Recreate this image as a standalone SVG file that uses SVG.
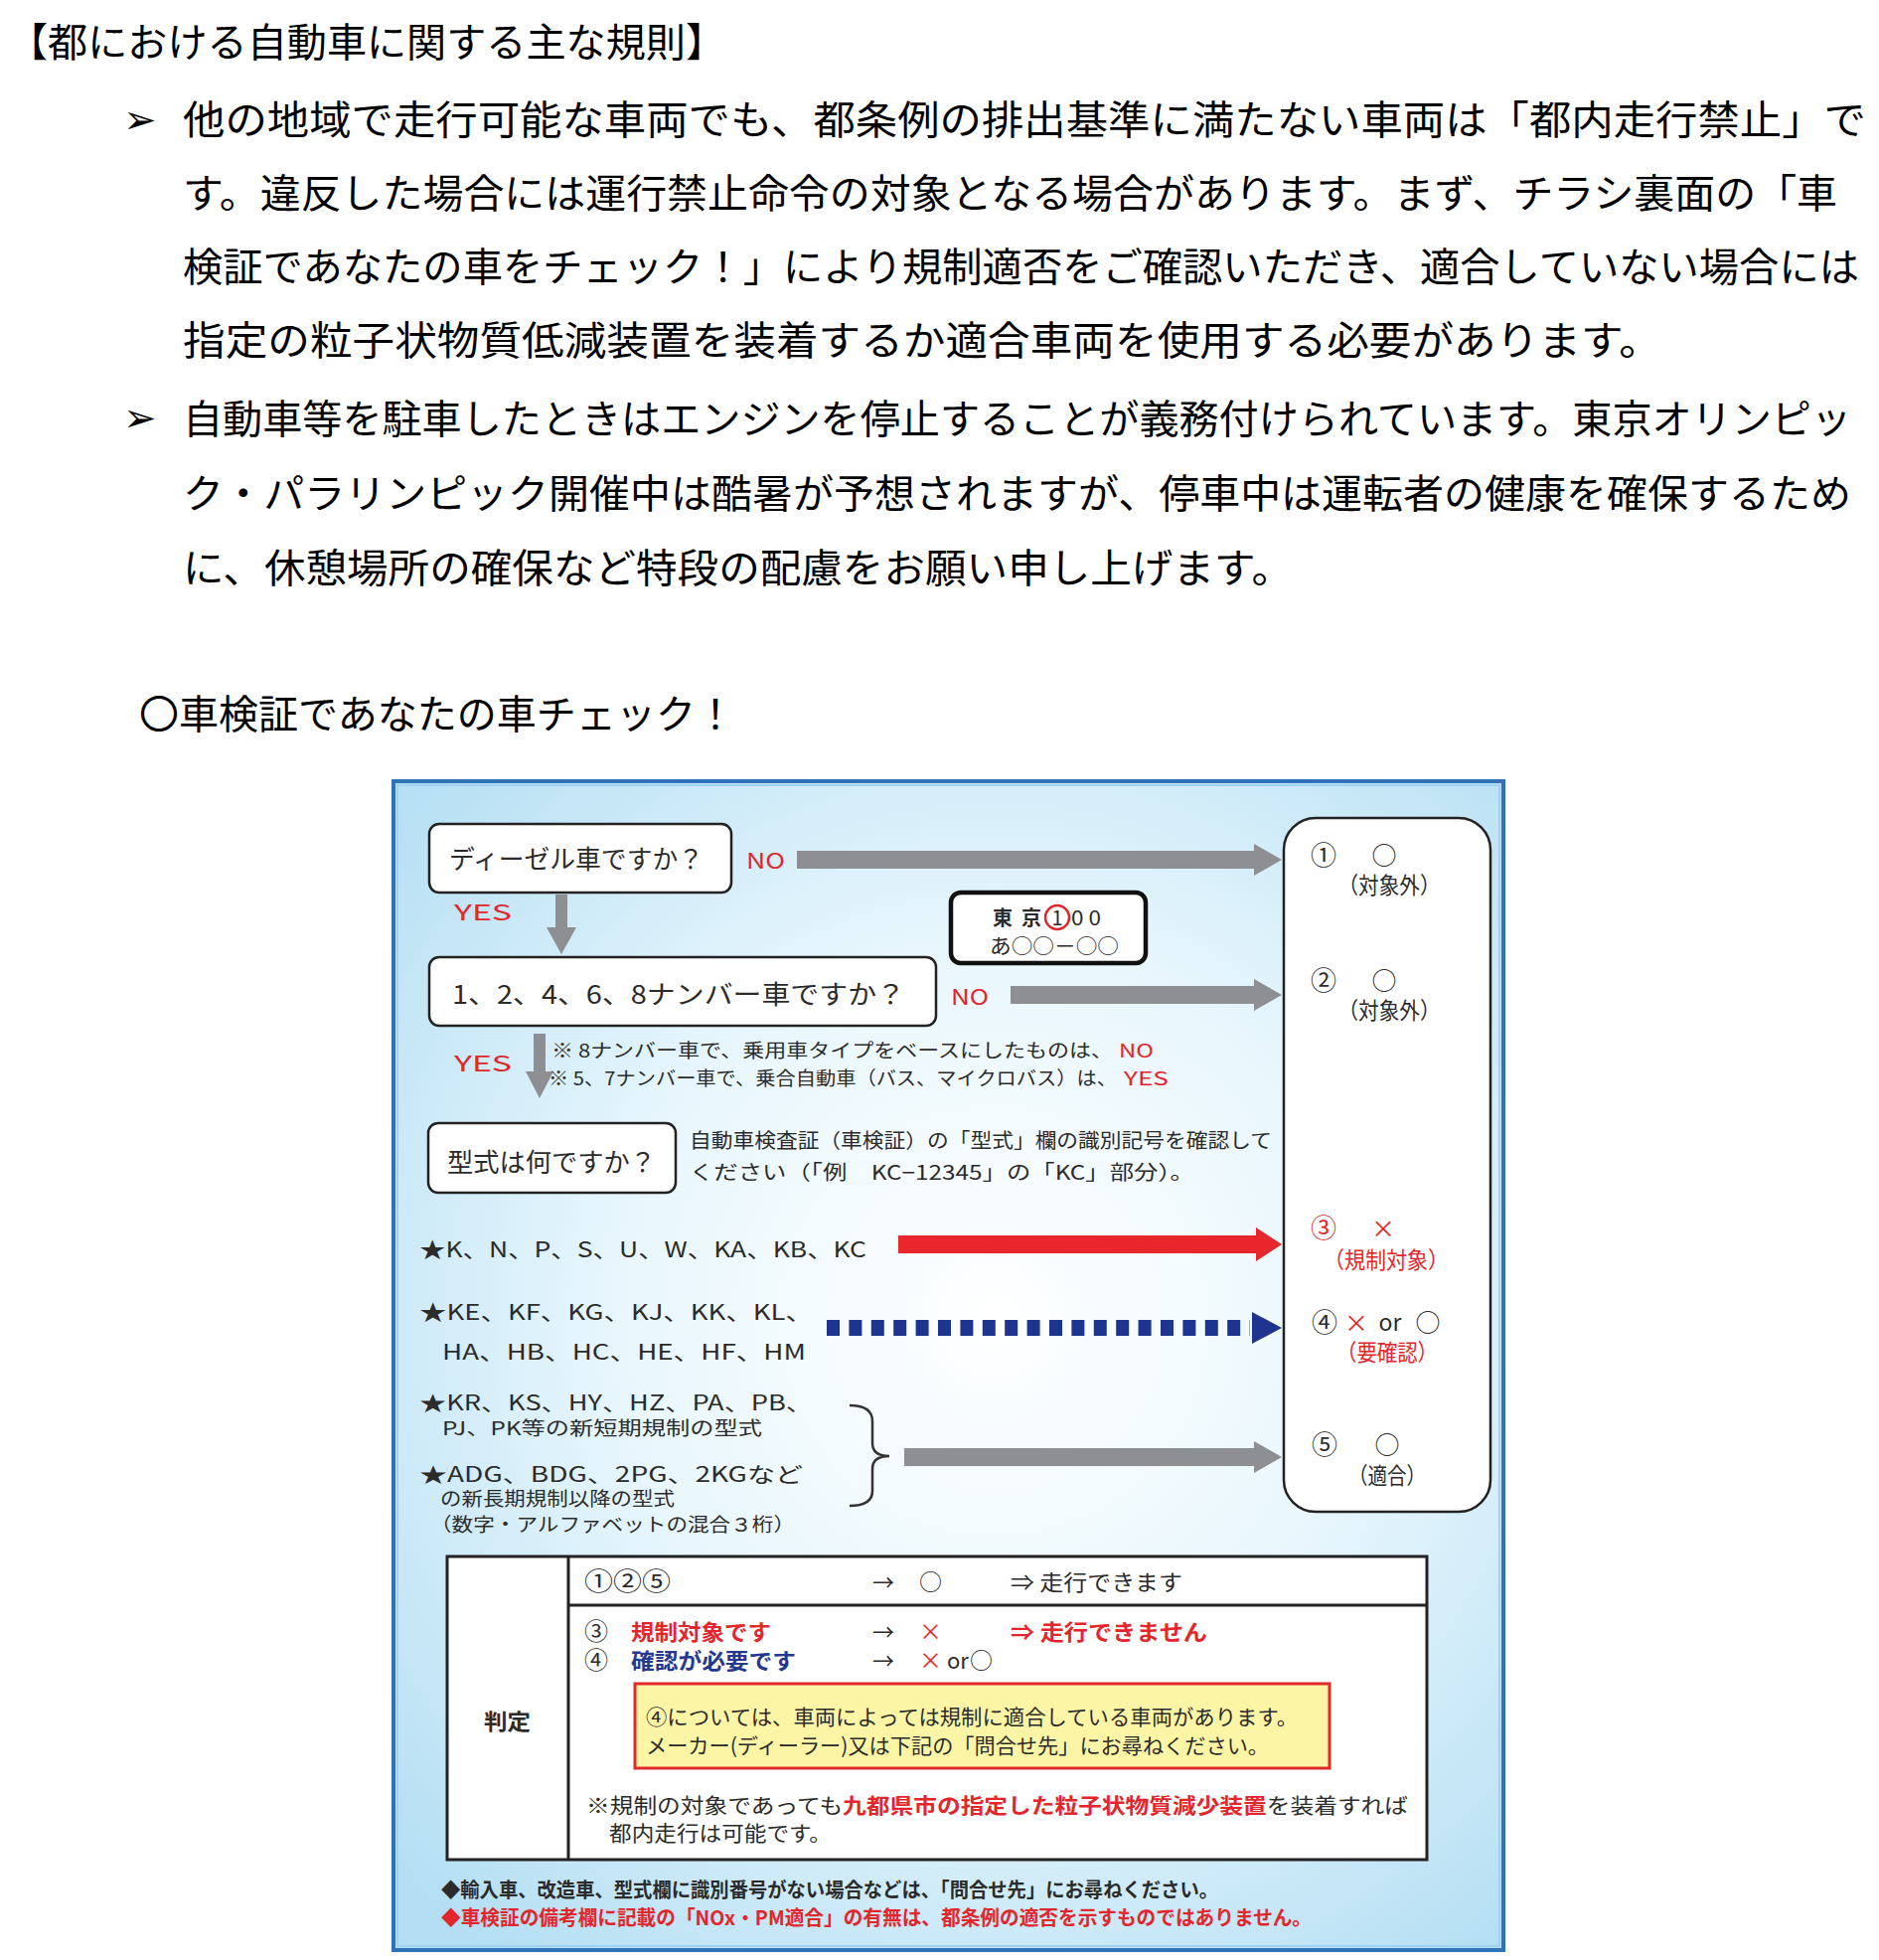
<svg xmlns="http://www.w3.org/2000/svg" width="1891" height="1972" viewBox="0 0 1891 1972">
<defs>
<radialGradient id="bg" gradientUnits="userSpaceOnUse" cx="1000" cy="1330" r="820">
<stop offset="0" stop-color="#ffffff"/>
<stop offset="0.45" stop-color="#e9f7fd"/>
<stop offset="1" stop-color="#b3def3"/>
</radialGradient>
<style>
.p{font-family:'Noto Sans CJK JP','Noto Sans CJK SC',sans-serif;font-size:40px;fill:#000}
.t{font-family:'Noto Sans CJK JP','Noto Sans CJK SC',sans-serif;fill:#2b2b2b}
.r{fill:#e3262b}
.b{fill:#25388f}
.box{fill:#fff;stroke:#222;stroke-width:2.5}
.gray{fill:#8d8f92}
.bul{font-family:'DejaVu Sans',sans-serif;font-size:40px;fill:#000}
</style>
</defs>
<rect width="1891" height="1972" fill="#fff"/>

<g id="header">
<text class="p" x="8" y="57" textLength="722" lengthAdjust="spacingAndGlyphs">【都における自動車に関する主な規則】</text>
<text class="bul" x="124" y="134">➢</text>
<text class="p" x="184" y="135" textLength="1694" lengthAdjust="spacingAndGlyphs">他の地域で走行可能な車両でも、都条例の排出基準に満たない車両は「都内走行禁止」で</text>
<text class="p" x="184" y="209" textLength="1665" lengthAdjust="spacingAndGlyphs">す。違反した場合には運行禁止命令の対象となる場合があります。まず、チラシ裏面の「車</text>
<text class="p" x="184" y="283" textLength="1687" lengthAdjust="spacingAndGlyphs">検証であなたの車をチェック！」により規制適否をご確認いただき、適合していない場合には</text>
<text class="p" x="184" y="357" textLength="1488" lengthAdjust="spacingAndGlyphs">指定の粒子状物質低減装置を装着するか適合車両を使用する必要があります。</text>
<text class="bul" x="124" y="434">➢</text>
<text class="p" x="184" y="436" textLength="1679" lengthAdjust="spacingAndGlyphs">自動車等を駐車したときはエンジンを停止することが義務付けられています。東京オリンピッ</text>
<text class="p" x="184" y="511" textLength="1679" lengthAdjust="spacingAndGlyphs">ク・パラリンピック開催中は酷暑が予想されますが、停車中は運転者の健康を確保するため</text>
<text class="p" x="184" y="586" textLength="1117" lengthAdjust="spacingAndGlyphs">に、休憩場所の確保など特段の配慮をお願い申し上げます。</text>
<text class="p" x="140" y="733" textLength="600" lengthAdjust="spacingAndGlyphs">〇車検証であなたの車チェック！</text>
</g>

<g id="frame">
<rect x="396" y="786" width="1117" height="1176" fill="url(#bg)" stroke="#2f72b8" stroke-width="4"/>
<rect x="400" y="790" width="1109" height="1168" fill="none" stroke="#9fd2ee" stroke-width="2"/>
</g>

<g id="connectors">
<polygon class="gray" points="802,856 1262,856 1262,849 1290,865 1262,881 1262,874 802,874"/>
<polygon class="gray" points="1017,992 1262,992 1262,985 1290,1001 1262,1017 1262,1010 1017,1010"/>
<polygon fill="#e8262c" points="904,1243 1264,1243 1264,1235 1290,1252 1264,1269 1264,1261 904,1261"/>
<line x1="832" y1="1336" x2="1258" y2="1336" stroke="#1e3590" stroke-width="16" stroke-dasharray="13 9.4"/>
<polygon fill="#1e3590" points="1260,1320 1290,1336 1260,1352"/>
<polygon class="gray" points="910,1457 1262,1457 1262,1450 1290,1466 1262,1482 1262,1475 910,1475"/>
<polygon class="gray" points="559,900 571,900 571,933 580,933 565,960 550,933 559,933"/>
<polygon class="gray" points="537,1040 549,1040 549,1078 557,1078 543,1105 529,1078 537,1078"/>
<path d="M855,1414 Q878,1414 878,1430 L878,1452 Q878,1465 895,1465 Q878,1465 878,1478 L878,1500 Q878,1515 855,1515" fill="none" stroke="#333" stroke-width="2.5"/>
<text class="t r" x="751" y="874" font-size="22" textLength="39" lengthAdjust="spacingAndGlyphs">NO</text>
<text class="t r" x="457" y="926" font-size="22" textLength="58" lengthAdjust="spacingAndGlyphs">YES</text>
<text class="t r" x="957" y="1011" font-size="22" textLength="38" lengthAdjust="spacingAndGlyphs">NO</text>
<text class="t r" x="457" y="1078" font-size="22" textLength="58" lengthAdjust="spacingAndGlyphs">YES</text>
</g>

<g id="q-diesel">
<rect class="box" x="432" y="829" width="304" height="69" rx="10"/>
<text class="t" x="452" y="874" font-size="26" textLength="256" lengthAdjust="spacingAndGlyphs">ディーゼル車ですか？</text>
</g>

<g id="plate">
<rect x="957" y="898" width="196" height="71" rx="10" fill="#fff" stroke="#111" stroke-width="4.5"/>
<text class="t" x="999" y="931" font-size="20" font-weight="bold">東</text>
<text class="t" x="1028" y="931" font-size="20" font-weight="bold">京</text>
<text class="t" x="1064" y="931" font-size="20" text-anchor="middle">1</text>
<ellipse cx="1064" cy="923" rx="12" ry="12" fill="none" stroke="#e0262a" stroke-width="2.5"/>
<text class="t" x="1078" y="931" font-size="20" textLength="30" lengthAdjust="spacingAndGlyphs">0 0</text>
<text class="t" x="996" y="959" font-size="21" textLength="130" lengthAdjust="spacingAndGlyphs">あ○○－○○</text>
</g>

<g id="q-number">
<rect class="box" x="432" y="963" width="510" height="69" rx="10"/>
<text class="t" x="455" y="1010" font-size="26" textLength="456" lengthAdjust="spacingAndGlyphs">1、2、4、6、8ナンバー車ですか？</text>
</g>

<g id="notes-number">
<text class="t" x="555" y="1064" font-size="19" textLength="565" lengthAdjust="spacingAndGlyphs">※ 8ナンバー車で、乗用車タイプをベースにしたものは、</text>
<text class="t r" x="1126" y="1064" font-size="19" textLength="35" lengthAdjust="spacingAndGlyphs">NO</text>
<text class="t" x="552" y="1092" font-size="19" textLength="572" lengthAdjust="spacingAndGlyphs">※ 5、7ナンバー車で、乗合自動車（バス、マイクロバス）は、</text>
<text class="t r" x="1131" y="1092" font-size="19" textLength="45" lengthAdjust="spacingAndGlyphs">YES</text>
</g>

<g id="q-type">
<rect class="box" x="431" y="1130" width="249" height="70" rx="10"/>
<text class="t" x="450" y="1179" font-size="26" textLength="210" lengthAdjust="spacingAndGlyphs">型式は何ですか？</text>
<text class="t" x="694" y="1155" font-size="20" textLength="586" lengthAdjust="spacingAndGlyphs">自動車検査証（車検証）の「型式」欄の識別記号を確認して</text>
<text class="t" x="694" y="1187" font-size="20" textLength="508" lengthAdjust="spacingAndGlyphs">ください（「例　KC−12345」の「KC」部分）。</text>
</g>

<g id="types">
<text class="t" x="422" y="1265" font-size="22" textLength="450" lengthAdjust="spacingAndGlyphs">★K、N、P、S、U、W、KA、KB、KC</text>
<text class="t" x="422" y="1328" font-size="22" textLength="396" lengthAdjust="spacingAndGlyphs">★KE、KF、KG、KJ、KK、KL、</text>
<text class="t" x="445" y="1368" font-size="22" textLength="366" lengthAdjust="spacingAndGlyphs">HA、HB、HC、HE、HF、HM</text>
<text class="t" x="422" y="1419" font-size="21" textLength="396" lengthAdjust="spacingAndGlyphs">★KR、KS、HY、HZ、PA、PB、</text>
<text class="t" x="445" y="1444" font-size="19" textLength="322" lengthAdjust="spacingAndGlyphs">PJ、PK等の新短期規制の型式</text>
<text class="t" x="422" y="1491" font-size="21" textLength="386" lengthAdjust="spacingAndGlyphs">★ADG、BDG、2PG、2KGなど</text>
<text class="t" x="443" y="1515" font-size="19" textLength="236" lengthAdjust="spacingAndGlyphs">の新長期規制以降の型式</text>
<text class="t" x="433" y="1541" font-size="19" textLength="367" lengthAdjust="spacingAndGlyphs">（数字・アルファベットの混合３桁）</text>
</g>

<g id="results">
<rect class="box" x="1292" y="823" width="208" height="698" rx="32"/>
<g font-size="23" text-anchor="middle">
<text class="t" x="1332" y="870" font-size="26">①</text>
<text class="t" x="1393" y="870" font-size="25">○</text>
<text class="t" x="1398" y="899" textLength="103" lengthAdjust="spacingAndGlyphs">（対象外）</text>
<text class="t" x="1332" y="996" font-size="26">②</text>
<text class="t" x="1393" y="996" font-size="25">○</text>
<text class="t" x="1398" y="1025" textLength="103" lengthAdjust="spacingAndGlyphs">（対象外）</text>
<text class="t r" x="1332" y="1245" font-size="26">③</text>
<text class="t r" x="1392" y="1245" font-size="24">×</text>
<text class="t r" x="1395" y="1276" textLength="126" lengthAdjust="spacingAndGlyphs">（規制対象）</text>
<text class="t" x="1333" y="1340" font-size="26">④</text>
<text class="t r" x="1365" y="1340" font-size="24">×</text>
<text class="t" x="1399" y="1339" font-family="'Liberation Sans',sans-serif" font-size="23">or</text>
<text class="t" x="1437" y="1340" font-size="25">○</text>
<text class="t r" x="1396" y="1369" textLength="102" lengthAdjust="spacingAndGlyphs">（要確認）</text>
<text class="t" x="1333" y="1463" font-size="26">⑤</text>
<text class="t" x="1396" y="1463" font-size="25">○</text>
<text class="t" x="1396" y="1493" textLength="78" lengthAdjust="spacingAndGlyphs">（適合）</text>
</g>
</g>

<g id="judgement">
<rect x="450" y="1566" width="986" height="305" fill="#fff" stroke="#222" stroke-width="3"/>
<line x1="572" y1="1566" x2="572" y2="1871" stroke="#222" stroke-width="3"/>
<line x1="572" y1="1615" x2="1436" y2="1615" stroke="#222" stroke-width="3"/>
<text class="t" x="487" y="1740" font-size="22" font-weight="bold" textLength="47" lengthAdjust="spacingAndGlyphs">判定</text>
<g font-size="22">
<text class="t" x="588" y="1600" font-size="25" textLength="87" lengthAdjust="spacingAndGlyphs">①②⑤</text>
<text class="t" x="878" y="1600">→</text>
<text class="t" x="925" y="1600" font-size="23">○</text>
<text class="t" x="1017" y="1600" textLength="173" lengthAdjust="spacingAndGlyphs">⇒ 走行できます</text>
<text class="t" x="588" y="1650" font-size="24">③</text>
<text class="t r" x="635" y="1650" font-weight="bold" textLength="141" lengthAdjust="spacingAndGlyphs">規制対象です</text>
<text class="t" x="878" y="1650">→</text>
<text class="t r" x="925" y="1650" font-size="23">×</text>
<text class="t r" x="1017" y="1650" font-weight="bold" textLength="198" lengthAdjust="spacingAndGlyphs">⇒ 走行できません</text>
<text class="t" x="588" y="1679" font-size="24">④</text>
<text class="t b" x="635" y="1679" font-weight="bold" textLength="166" lengthAdjust="spacingAndGlyphs">確認が必要です</text>
<text class="t" x="878" y="1679">→</text>
<text class="t r" x="925" y="1679" font-size="23">×</text>
<text class="t" x="953" y="1679" font-family="'Liberation Sans',sans-serif">or</text>
<text class="t" x="976" y="1679" font-size="23">○</text>
</g>
<rect x="639" y="1694" width="699" height="85" fill="#fdf5a6" stroke="#e02a2a" stroke-width="3"/>
<text class="t" x="650" y="1735" font-size="21" textLength="656" lengthAdjust="spacingAndGlyphs">④については、車両によっては規制に適合している車両があります。</text>
<text class="t" x="650" y="1764" font-size="21" textLength="627" lengthAdjust="spacingAndGlyphs">メーカー(ディーラー)又は下記の「問合せ先」にお尋ねください。</text>
<text class="t" x="590" y="1824" font-size="21" textLength="827" lengthAdjust="spacingAndGlyphs">※規制の対象であっても<tspan class="r" font-weight="bold">九都県市の指定した粒子状物質減少装置</tspan>を装着すれば</text>
<text class="t" x="613" y="1852" font-size="21" textLength="224" lengthAdjust="spacingAndGlyphs">都内走行は可能です。</text>
</g>

<g id="footer">
<text class="t" x="444" y="1909" font-size="20" font-weight="bold" textLength="782" lengthAdjust="spacingAndGlyphs">◆輸入車、改造車、型式欄に識別番号がない場合などは、「問合せ先」にお尋ねください。</text>
<text class="t r" x="444" y="1937" font-size="20" font-weight="bold" textLength="876" lengthAdjust="spacingAndGlyphs">◆車検証の備考欄に記載の「NOx・PM適合」の有無は、都条例の適否を示すものではありません。</text>
</g>
</svg>
